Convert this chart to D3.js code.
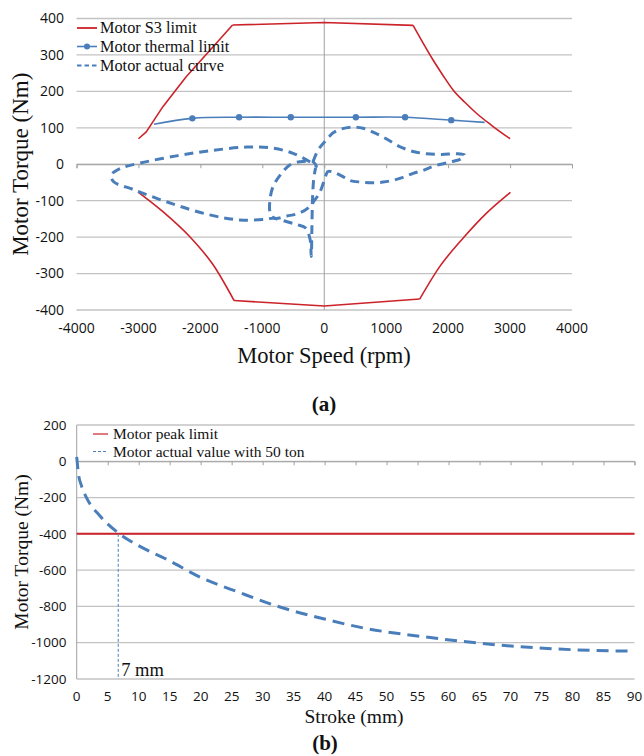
<!DOCTYPE html>
<html><head><meta charset="utf-8">
<script src="https://cdn.jsdelivr.net/npm/d3@7"></script>
<style>body{margin:0;background:#fff} svg{display:block}</style>
</head><body><svg id="c" width="644" height="756"></svg>
<script>
// ---------- Chart (a) data ----------
const speedTicks = [-4000,-3000,-2000,-1000,0,1000,2000,3000,4000];
const torqueTicksA = [-400,-300,-200,-100,0,100,200,300,400];
// S3 limit, split into left branch / flat top / right branch
const s3UpLeftSpeed   = [-3000,-2873,-2605,-2229,-1740,-1480];
const s3UpLeftTorque  = [70,89,158,240,333,382];
const s3UpTopSpeed    = [-1480,0,1435];
const s3UpTopTorque   = [382,389,381];
const s3UpRightSpeed  = [1435,1757,1920,2080,2270,2457,2700,3000];
const s3UpRightTorque = [381,286,243,204,170,140,107,70];
const s3LoLeftSpeed   = [-3000,-2605,-2170,-1794,-1456];
const s3LoLeftTorque  = [-77,-130,-199,-276,-374];
const s3LoTopSpeed    = [-1456,0,1541];
const s3LoTopTorque   = [-374,-389,-370];
const s3LoRightSpeed  = [1541,1864,2240,2620,3006];
const s3LoRightTorque = [-370,-281,-203,-134,-77];
const thermalSpeed  = [-2750,-2130,-1375,-540,510,1305,2050,2590];
const thermalTorque = [110,126,129,129,129,129,121,115];
const thermalMarked = [0,1,1,1,1,1,1,0];
const actualSpeed = [-180,-100,35,150,280,450,626,815,1000,1200,1434,1650,1900,2134,2268,2200,2000,1756,1595,1434,1272,1111,950,780,600,420,280,150,60,0,-80,-153,-234,-400,-600,-800,-870,-880,-826,-690,-557,-395,-250,-180,
  -126,-234,-504,-826,-1256,-1849,-2387,-2979,-3300,-3440,-3400,-3087,-2548,-1849,-1364,-933,-826,-600,-430,-300,-230,-210,-200,-190,-170,-140];
const actualTorque = [7,39,67,87,97,102,99,86,70,50,35,29,27,29,25,14,5,-6,-17,-25,-36,-44,-49,-51,-49,-45,-32,-22,-20,-45,-80,-98,-116,-134,-142,-148,-135,-103,-61,-25,-2,7,8,7,
  -6,7,30,44,47,37,23,3,-12,-30,-48,-69,-103,-139,-153,-151,-148,-158,-166,-175,-205,-253,-180,-100,-40,-10];
const legendA = ["Motor S3 limit","Motor thermal limit","Motor actual curve"];

// ---------- Chart (b) data ----------
const strokeTicks = [0,5,10,15,20,25,30,35,40,45,50,55,60,65,70,75,80,85,90];
const torqueTicksB = [-1200,-1000,-800,-600,-400,-200,0,200];
const strokeVals  = [0,0.26,0.8,1.6,3.8,6.7,10.2,14.6,20,26.4,32.4,40.4,46.3,55.5,62,68.5,77.1,90];
const strokeTorque= [24,-64,-138,-202,-303,-395,-469,-542,-640,-725,-799,-873,-919,-965,-992,-1014,-1034,-1047];
const peakLimit = -400;
const markStroke = 6.7;
const legendB = ["Motor peak limit","Motor actual value with 50 ton"];

const RED = "#cc2229", BLUE = "#4a7ebb", GRID = "#c3c3c3", AXIS = "#a0a0a0";
const SANS = "'Open Sans', 'Liberation Sans', sans-serif";
const SERIF = "'Liberation Serif', 'DejaVu Serif', serif";

const svg = d3.select("#c");
svg.append("rect").attr("width",644).attr("height",756).attr("fill","#fff");

// ================= Chart (a) =================
const xA = d3.scaleLinear().domain([-4000,4000]).range([76.5,572]);
const yA = d3.scaleLinear().domain([-400,400]).range([310,18.5]);
const gA = svg.append("g");

gA.selectAll("line.grid").data(torqueTicksA).join("line")
  .attr("x1",xA(-4000)).attr("x2",xA(4000))
  .attr("y1",d=>yA(d)).attr("y2",d=>yA(d))
  .attr("stroke",GRID).attr("stroke-width",1.3);
gA.append("line").attr("x1",xA(0)).attr("x2",xA(0)).attr("y1",yA(400)).attr("y2",yA(-400))
  .attr("stroke",AXIS).attr("stroke-width",1);
const axA = d3.axisBottom(xA).tickValues(speedTicks).tickSize(4).tickFormat("");
const axAg = gA.append("g").attr("transform",`translate(0,${yA(0)})`).call(axA);
axAg.select(".domain").attr("stroke",AXIS);
axAg.selectAll(".tick line").attr("stroke",AXIS);

gA.selectAll("text.yt").data(torqueTicksA).join("text")
  .attr("x",64).attr("y",d=>yA(d)).attr("dy","0.35em").attr("text-anchor","end")
  .attr("font-family",SANS).attr("font-size",14).attr("fill","#111").text(d=>d);
gA.selectAll("text.xt").data(speedTicks).join("text")
  .attr("x",d=>xA(d)).attr("y",333).attr("text-anchor","middle")
  .attr("font-family",SANS).attr("font-size",14).attr("fill","#111").text(d=>d);

gA.append("text").attr("x",324).attr("y",363).attr("text-anchor","middle")
  .attr("font-family",SERIF).attr("font-size",22.5).attr("fill","#111").text("Motor Speed (rpm)");
gA.append("text").attr("transform",`translate(28,${yA(0)}) rotate(-90)`).attr("text-anchor","middle")
  .attr("font-family",SERIF).attr("font-size",23).attr("fill","#111").text("Motor Torque (Nm)");
svg.append("text").attr("x",324).attr("y",411).attr("text-anchor","middle")
  .attr("font-family",SERIF).attr("font-weight","bold").attr("font-size",21).attr("fill","#111").text("(a)");

const lin = d3.line().x(d=>xA(d[0])).y(d=>yA(d[1]));
const smooth = d3.line().x(d=>xA(d[0])).y(d=>yA(d[1])).curve(d3.curveMonotoneX);
const redPaths = [
  [s3UpLeftSpeed,s3UpLeftTorque,lin],[s3UpTopSpeed,s3UpTopTorque,lin],[s3UpRightSpeed,s3UpRightTorque,smooth],
  [s3LoLeftSpeed,s3LoLeftTorque,smooth],[s3LoTopSpeed,s3LoTopTorque,lin],[s3LoRightSpeed,s3LoRightTorque,smooth]
];
redPaths.forEach(([s,t,gen])=>{
  gA.append("path").datum(d3.zip(s,t)).attr("d",gen)
    .attr("fill","none").attr("stroke",RED).attr("stroke-width",1.6).attr("stroke-linejoin","round");
});
gA.append("path").datum(d3.zip(thermalSpeed,thermalTorque)).attr("d",d3.line().x(d=>xA(d[0])).y(d=>yA(d[1])).curve(d3.curveCatmullRom))
  .attr("fill","none").attr("stroke",BLUE).attr("stroke-width",1.6);
gA.selectAll("circle.tm").data(d3.zip(thermalSpeed,thermalTorque,thermalMarked).filter(d=>d[2])).join("circle")
  .attr("cx",d=>xA(d[0])).attr("cy",d=>yA(d[1])).attr("r",3.2).attr("fill",BLUE);
gA.append("path").datum(d3.zip(actualSpeed,actualTorque)).attr("d",d3.line().x(d=>xA(d[0])).y(d=>yA(d[1])).curve(d3.curveCatmullRom))
  .attr("fill","none").attr("stroke",BLUE).attr("stroke-width",3).attr("stroke-dasharray","9,6");

// legend (a)
const legA = gA.append("g");
const legYA = [28, 46.5, 65.5];
legA.append("line").attr("x1",77).attr("x2",97).attr("y1",legYA[0]).attr("y2",legYA[0]).attr("stroke",RED).attr("stroke-width",1.8);
legA.append("line").attr("x1",77).attr("x2",97).attr("y1",legYA[1]).attr("y2",legYA[1]).attr("stroke",BLUE).attr("stroke-width",1.6);
legA.append("circle").attr("cx",87).attr("cy",legYA[1]).attr("r",3).attr("fill",BLUE);
legA.append("line").attr("x1",77).attr("x2",97).attr("y1",legYA[2]).attr("y2",legYA[2]).attr("stroke",BLUE).attr("stroke-width",1.8).attr("stroke-dasharray","4.5,3");
legA.selectAll("text").data(legendA).join("text")
  .attr("x",100).attr("y",(d,i)=>legYA[i]).attr("dy","0.33em")
  .attr("font-family",SERIF).attr("font-size",16.3).attr("fill","#111").text(d=>d);

// ================= Chart (b) =================
const xB = d3.scaleLinear().domain([0,90]).range([76.7,634.5]);
const yB = d3.scaleLinear().domain([-1200,200]).range([679,425]);
const gB = svg.append("g");
gB.selectAll("line.grid").data(torqueTicksB).join("line")
  .attr("x1",xB(0)).attr("x2",xB(90))
  .attr("y1",d=>yB(d)).attr("y2",d=>yB(d))
  .attr("stroke",GRID).attr("stroke-width",1.3);
gB.append("line").attr("x1",xB(0)).attr("x2",xB(0)).attr("y1",yB(200)).attr("y2",yB(-1200))
  .attr("stroke",AXIS).attr("stroke-width",1);
const axB = d3.axisBottom(xB).tickValues(strokeTicks).tickSize(4).tickFormat("");
const axBg = gB.append("g").attr("transform",`translate(0,${yB(0)})`).call(axB);
axBg.select(".domain").attr("stroke",AXIS);
axBg.selectAll(".tick line").attr("stroke",AXIS);

gB.selectAll("text.yt").data(torqueTicksB).join("text")
  .attr("x",66.5).attr("y",d=>yB(d)).attr("dy","0.35em").attr("text-anchor","end")
  .attr("font-family",SANS).attr("font-size",13.5).attr("fill","#111").text(d=>d);
gB.selectAll("text.xt").data(strokeTicks).join("text")
  .attr("x",d=>xB(d)).attr("y",700.5).attr("text-anchor","middle")
  .attr("font-family",SANS).attr("font-size",13.5).attr("fill","#111").text(d=>d);

gB.append("text").attr("x",354).attr("y",723).attr("text-anchor","middle")
  .attr("font-family",SERIF).attr("font-size",19.5).attr("fill","#111").text("Stroke (mm)");
gB.append("text").attr("transform",`translate(28,${yB(-500)}) rotate(-90)`).attr("text-anchor","middle")
  .attr("font-family",SERIF).attr("font-size",19.5).attr("fill","#111").text("Motor Torque (Nm)");
svg.append("text").attr("x",325).attr("y",750).attr("text-anchor","middle")
  .attr("font-family",SERIF).attr("font-weight","bold").attr("font-size",21).attr("fill","#111").text("(b)");

gB.append("line").attr("x1",xB(0)).attr("x2",xB(90)).attr("y1",yB(peakLimit)).attr("y2",yB(peakLimit))
  .attr("stroke",RED).attr("stroke-width",2);
gB.append("line").attr("x1",xB(markStroke)).attr("x2",xB(markStroke)).attr("y1",yB(peakLimit)).attr("y2",yB(-1200))
  .attr("stroke",BLUE).attr("stroke-width",1).attr("stroke-dasharray","3,2");
gB.append("text").attr("x",xB(markStroke)+3).attr("y",676).attr("font-family",SERIF).attr("font-size",18.5).attr("fill","#111").text("7 mm");
gB.append("path").datum(d3.zip(strokeVals,strokeTorque))
  .attr("d",d3.line().x(d=>xB(d[0])).y(d=>yB(d[1])).curve(d3.curveMonotoneX))
  .attr("fill","none").attr("stroke",BLUE).attr("stroke-width",3).attr("stroke-dasharray","12,7");

const legYB = [434, 451.5];
gB.append("line").attr("x1",93).attr("x2",108).attr("y1",legYB[0]).attr("y2",legYB[0]).attr("stroke",RED).attr("stroke-width",1.2);
gB.append("line").attr("x1",93).attr("x2",108).attr("y1",legYB[1]).attr("y2",legYB[1]).attr("stroke",BLUE).attr("stroke-width",1).attr("stroke-dasharray","3,2");
gB.selectAll("text.lg").data(legendB).join("text")
  .attr("x",113).attr("y",(d,i)=>legYB[i]).attr("dy","0.33em")
  .attr("font-family",SERIF).attr("font-size",15.5).attr("fill","#111").text(d=>d);
</script></body></html>
